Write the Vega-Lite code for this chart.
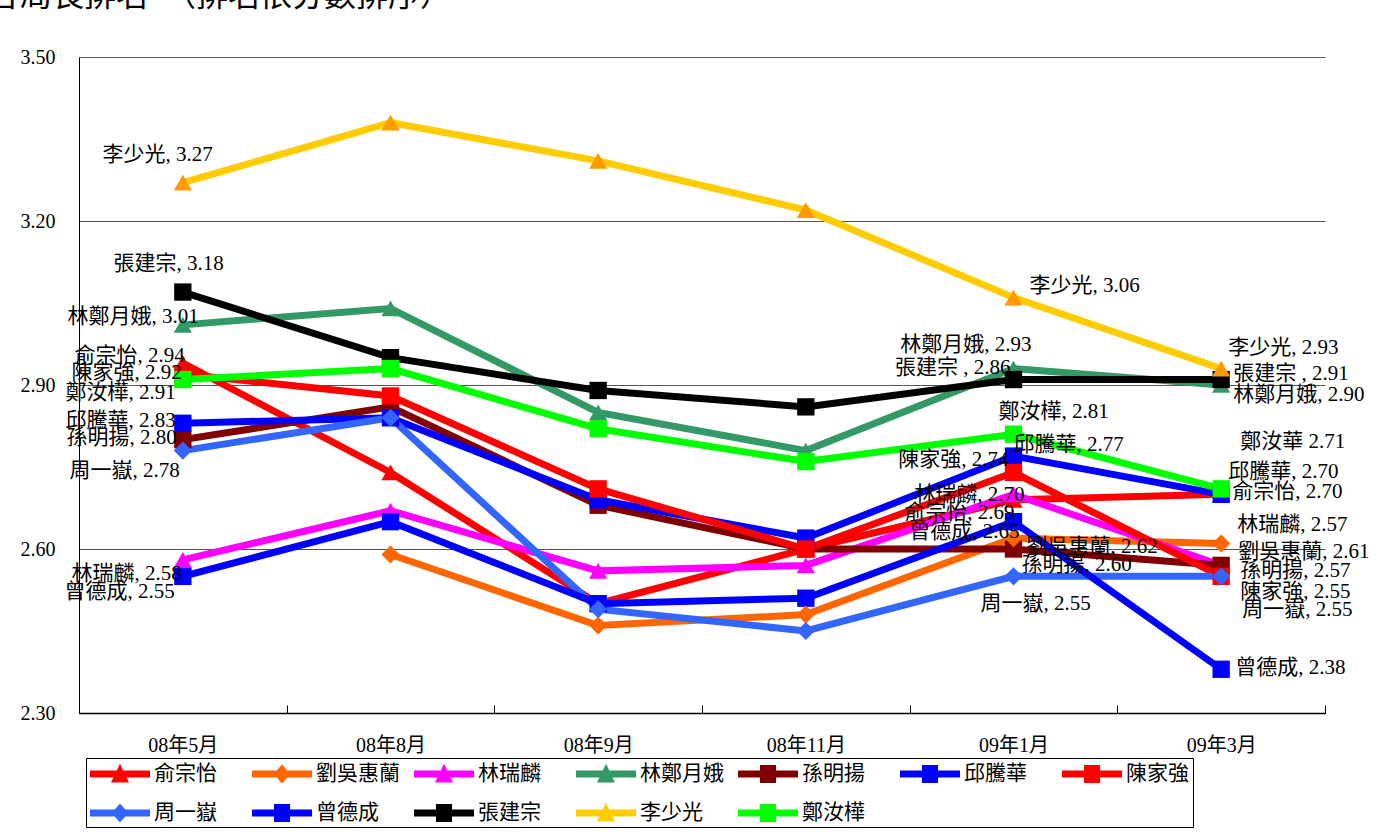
{
 "$schema": "https://vega.github.io/schema/vega-lite/v6.json",
 "width": 1246, "height": 656,
 "autosize": {"type": "none"},
 "padding": {"left": 79, "top": 57, "right": 64, "bottom": 119},
 "background": "white",
 "title": {"text": "各局長排名　（排名依分數排序）", "anchor": "start", "frame": "group", "fontSize": 32, "font": "Noto Sans CJK TC", "fontWeight": "normal", "color": "black", "dx": -91, "offset": 34},
 "data": {"values": [
  {"series": "俞宗怡", "date": "08年5月", "value": 2.94, "label": "俞宗怡, 2.94"},
  {"series": "俞宗怡", "date": "08年8月", "value": 2.74},
  {"series": "俞宗怡", "date": "08年9月", "value": 2.50},
  {"series": "俞宗怡", "date": "08年11月", "value": 2.60},
  {"series": "俞宗怡", "date": "09年1月", "value": 2.69, "label": "俞宗怡, 2.69"},
  {"series": "俞宗怡", "date": "09年3月", "value": 2.70, "label": "俞宗怡, 2.70"},
  {"series": "劉吳惠蘭", "date": "08年8月", "value": 2.59},
  {"series": "劉吳惠蘭", "date": "08年9月", "value": 2.46},
  {"series": "劉吳惠蘭", "date": "08年11月", "value": 2.48},
  {"series": "劉吳惠蘭", "date": "09年1月", "value": 2.62, "label": "劉吳惠蘭, 2.62"},
  {"series": "劉吳惠蘭", "date": "09年3月", "value": 2.61, "label": "劉吳惠蘭, 2.61"},
  {"series": "林瑞麟", "date": "08年5月", "value": 2.58, "label": "林瑞麟, 2.58"},
  {"series": "林瑞麟", "date": "08年8月", "value": 2.67},
  {"series": "林瑞麟", "date": "08年9月", "value": 2.56},
  {"series": "林瑞麟", "date": "08年11月", "value": 2.57},
  {"series": "林瑞麟", "date": "09年1月", "value": 2.70, "label": "林瑞麟, 2.70"},
  {"series": "林瑞麟", "date": "09年3月", "value": 2.57, "label": "林瑞麟, 2.57"},
  {"series": "林鄭月娥", "date": "08年5月", "value": 3.01, "label": "林鄭月娥, 3.01"},
  {"series": "林鄭月娥", "date": "08年8月", "value": 3.04},
  {"series": "林鄭月娥", "date": "08年9月", "value": 2.85},
  {"series": "林鄭月娥", "date": "08年11月", "value": 2.78},
  {"series": "林鄭月娥", "date": "09年1月", "value": 2.93, "label": "林鄭月娥, 2.93"},
  {"series": "林鄭月娥", "date": "09年3月", "value": 2.90, "label": "林鄭月娥, 2.90"},
  {"series": "孫明揚", "date": "08年5月", "value": 2.80, "label": "孫明揚, 2.80"},
  {"series": "孫明揚", "date": "08年8月", "value": 2.86},
  {"series": "孫明揚", "date": "08年9月", "value": 2.68},
  {"series": "孫明揚", "date": "08年11月", "value": 2.60},
  {"series": "孫明揚", "date": "09年1月", "value": 2.60, "label": "孫明揚, 2.60"},
  {"series": "孫明揚", "date": "09年3月", "value": 2.57, "label": "孫明揚, 2.57"},
  {"series": "邱騰華", "date": "08年5月", "value": 2.83, "label": "邱騰華, 2.83"},
  {"series": "邱騰華", "date": "08年8月", "value": 2.84},
  {"series": "邱騰華", "date": "08年9月", "value": 2.69},
  {"series": "邱騰華", "date": "08年11月", "value": 2.62},
  {"series": "邱騰華", "date": "09年1月", "value": 2.77, "label": "邱騰華, 2.77"},
  {"series": "邱騰華", "date": "09年3月", "value": 2.70, "label": "邱騰華, 2.70"},
  {"series": "陳家強", "date": "08年5月", "value": 2.92, "label": "陳家強, 2.92"},
  {"series": "陳家強", "date": "08年8月", "value": 2.88},
  {"series": "陳家強", "date": "08年9月", "value": 2.71},
  {"series": "陳家強", "date": "08年11月", "value": 2.60},
  {"series": "陳家強", "date": "09年1月", "value": 2.74, "label": "陳家強, 2.74"},
  {"series": "陳家強", "date": "09年3月", "value": 2.55, "label": "陳家強, 2.55"},
  {"series": "周一嶽", "date": "08年5月", "value": 2.78, "label": "周一嶽, 2.78"},
  {"series": "周一嶽", "date": "08年8月", "value": 2.84},
  {"series": "周一嶽", "date": "08年9月", "value": 2.49},
  {"series": "周一嶽", "date": "08年11月", "value": 2.45},
  {"series": "周一嶽", "date": "09年1月", "value": 2.55, "label": "周一嶽, 2.55"},
  {"series": "周一嶽", "date": "09年3月", "value": 2.55, "label": "周一嶽, 2.55"},
  {"series": "曾德成", "date": "08年5月", "value": 2.55, "label": "曾德成, 2.55"},
  {"series": "曾德成", "date": "08年8月", "value": 2.65},
  {"series": "曾德成", "date": "08年9月", "value": 2.50},
  {"series": "曾德成", "date": "08年11月", "value": 2.51},
  {"series": "曾德成", "date": "09年1月", "value": 2.65, "label": "曾德成, 2.65"},
  {"series": "曾德成", "date": "09年3月", "value": 2.38, "label": "曾德成, 2.38"},
  {"series": "張建宗", "date": "08年5月", "value": 3.07, "label": "張建宗, 3.18"},
  {"series": "張建宗", "date": "08年8月", "value": 2.95},
  {"series": "張建宗", "date": "08年9月", "value": 2.89},
  {"series": "張建宗", "date": "08年11月", "value": 2.86},
  {"series": "張建宗", "date": "09年1月", "value": 2.91, "label": "張建宗 , 2.86"},
  {"series": "張建宗", "date": "09年3月", "value": 2.91, "label": "張建宗  , 2.91"},
  {"series": "李少光", "date": "08年5月", "value": 3.27, "label": "李少光, 3.27"},
  {"series": "李少光", "date": "08年8月", "value": 3.38},
  {"series": "李少光", "date": "08年9月", "value": 3.31},
  {"series": "李少光", "date": "08年11月", "value": 3.22},
  {"series": "李少光", "date": "09年1月", "value": 3.06, "label": "李少光, 3.06"},
  {"series": "李少光", "date": "09年3月", "value": 2.93, "label": "李少光, 2.93"},
  {"series": "鄭汝樺", "date": "08年5月", "value": 2.91, "label": "鄭汝樺, 2.91"},
  {"series": "鄭汝樺", "date": "08年8月", "value": 2.93},
  {"series": "鄭汝樺", "date": "08年9月", "value": 2.82},
  {"series": "鄭汝樺", "date": "08年11月", "value": 2.76},
  {"series": "鄭汝樺", "date": "09年1月", "value": 2.81, "label": "鄭汝樺, 2.81"},
  {"series": "鄭汝樺", "date": "09年3月", "value": 2.71, "label": "鄭汝華 2.71"}
 ]},
 "encoding": {
  "x": {"field": "date", "type": "ordinal", "sort": ["08年5月", "08年8月", "08年9月", "08年11月", "09年1月", "09年3月"], "bandPosition": 0.5,
   "scale": {"type": "band", "paddingInner": 0, "paddingOuter": 0},
   "axis": {"title": null, "tickBand": "extent", "ticks": true, "tickSize": -8, "tickColor": "black", "tickWidth": 1, "domainColor": "black", "domainWidth": 1.5, "labelAngle": 0, "labelPadding": 30, "labelFontSize": 20, "labelFont": "Liberation Serif, Noto Sans CJK TC", "labelColor": "black", "grid": false}},
  "y": {"field": "value", "type": "quantitative", "scale": {"domain": [2.3, 3.5], "zero": false, "nice": false},
   "axis": {"title": null, "values": [2.3, 2.6, 2.9, 3.2, 3.5], "format": ".2f", "ticks": false, "grid": true, "gridColor": "#555555", "gridWidth": 1, "domainColor": "black", "domainWidth": 1, "labelPadding": 24, "labelFontSize": 20, "labelFont": "Liberation Serif, Noto Sans CJK TC", "labelColor": "black"}},
  "color": {"field": "series", "type": "nominal",
    "scale": {"domain": ["俞宗怡", "劉吳惠蘭", "林瑞麟", "林鄭月娥", "孫明揚", "邱騰華", "陳家強", "周一嶽", "曾德成", "張建宗", "李少光", "鄭汝樺"],
              "range": ["#FF0000", "#FF6600", "#FF00FF", "#339966", "#800000", "#0000FF", "#FF0000", "#3366FF", "#0000FF", "#000000", "#FFCC00", "#00FF00"]},
    "legend": {"title": null, "orient": "none", "legendX": 7, "legendY": 701, "direction": "horizontal", "columns": 7, "gridAlign": "all", "columnPadding": 14, "rowPadding": 17, "padding": 4, "strokeColor": "black", "fillColor": "white", "symbolSize": 576, "symbolStrokeWidth": 0, "symbolType": "M-1,-0.29L4,-0.29L4,0.29L-1,0.29Z", "labelFontSize": 21, "labelFont": "Liberation Serif, Noto Sans CJK TC", "labelColor": "black", "labelOffset": 40, "labelLimit": 300,
     "encode": {"symbols": {"update": {
      "shape": {"signal": "(datum.value === '劉吳惠蘭' || datum.value === '周一嶽') ? 'M-1,-0.29L4,-0.29L4,0.29L-1,0.29Z M1.5,-0.8L2.2,0L1.5,0.8L0.8,0Z' : ((datum.value === '俞宗怡' || datum.value === '林瑞麟' || datum.value === '林鄭月娥' || datum.value === '李少光') ? 'M-1,-0.29L4,-0.29L4,0.29L-1,0.29Z M1.5,-0.85L2.25,0.7L0.75,0.7Z' : 'M-1,-0.29L4,-0.29L4,0.29L-1,0.29Z M0.83,-0.75L2.17,-0.75L2.17,0.75L0.83,0.75Z')"},
      "fill": {"scale": "color", "field": "value"},
      "strokeWidth": {"value": 0},
      "opacity": {"value": 1}}}}}}
 },
 "layer": [
  {"mark": {"type": "line", "strokeWidth": 7}},
  {"mark": {"type": "point", "filled": true, "size": 330, "opacity": 1, "shape": "triangle-up"},
   "transform": [{"filter": "indexof(['俞宗怡', '林瑞麟', '林鄭月娥'], datum.series) >= 0"}]},
  {"mark": {"type": "point", "filled": true, "size": 300, "opacity": 1, "shape": "square"},
   "transform": [{"filter": "indexof(['孫明揚', '邱騰華', '陳家強', '曾德成', '張建宗', '鄭汝樺'], datum.series) >= 0"}]},
  {"mark": {"type": "point", "filled": true, "size": 330, "opacity": 1, "shape": "diamond"},
   "transform": [{"filter": "indexof(['劉吳惠蘭', '周一嶽'], datum.series) >= 0"}]},
  {"mark": {"type": "point", "filled": true, "size": 330, "opacity": 1, "shape": "triangle-up", "color": "#FF9900"},
   "transform": [{"filter": "datum.series === '李少光'"}], "encoding": {"color": {"value": "#FF9900"}}},
  {"mark": {"type": "text", "align": "right", "dx": 30, "dy": -28}, "transform": [{"filter": "datum.series === '李少光' && datum.date === '08年5月'"}], "encoding": {"text": {"field": "label"}, "color": {"value": "black"}}},
  {"mark": {"type": "text", "align": "right", "dx": 41, "dy": -28}, "transform": [{"filter": "datum.series === '張建宗' && datum.date === '08年5月'"}], "encoding": {"text": {"field": "label"}, "color": {"value": "black"}}},
  {"mark": {"type": "text", "align": "right", "dx": 16, "dy": -8}, "transform": [{"filter": "datum.series === '林鄭月娥' && datum.date === '08年5月'"}], "encoding": {"text": {"field": "label"}, "color": {"value": "black"}}},
  {"mark": {"type": "text", "align": "right", "dx": 2, "dy": -7}, "transform": [{"filter": "datum.series === '俞宗怡' && datum.date === '08年5月'"}], "encoding": {"text": {"field": "label"}, "color": {"value": "black"}}},
  {"mark": {"type": "text", "align": "right", "dx": -1, "dy": -1}, "transform": [{"filter": "datum.series === '陳家強' && datum.date === '08年5月'"}], "encoding": {"text": {"field": "label"}, "color": {"value": "black"}}},
  {"mark": {"type": "text", "align": "right", "dx": -7, "dy": 13}, "transform": [{"filter": "datum.series === '鄭汝樺' && datum.date === '08年5月'"}], "encoding": {"text": {"field": "label"}, "color": {"value": "black"}}},
  {"mark": {"type": "text", "align": "right", "dx": -7, "dy": -2}, "transform": [{"filter": "datum.series === '邱騰華' && datum.date === '08年5月'"}], "encoding": {"text": {"field": "label"}, "color": {"value": "black"}}},
  {"mark": {"type": "text", "align": "right", "dx": -6, "dy": -2}, "transform": [{"filter": "datum.series === '孫明揚' && datum.date === '08年5月'"}], "encoding": {"text": {"field": "label"}, "color": {"value": "black"}}},
  {"mark": {"type": "text", "align": "right", "dx": -3, "dy": 20}, "transform": [{"filter": "datum.series === '周一嶽' && datum.date === '08年5月'"}], "encoding": {"text": {"field": "label"}, "color": {"value": "black"}}},
  {"mark": {"type": "text", "align": "right", "dx": -1, "dy": 14}, "transform": [{"filter": "datum.series === '林瑞麟' && datum.date === '08年5月'"}], "encoding": {"text": {"field": "label"}, "color": {"value": "black"}}},
  {"mark": {"type": "text", "align": "right", "dx": -8, "dy": 16}, "transform": [{"filter": "datum.series === '曾德成' && datum.date === '08年5月'"}], "encoding": {"text": {"field": "label"}, "color": {"value": "black"}}},
  {"mark": {"type": "text", "align": "left", "dx": 16, "dy": -12}, "transform": [{"filter": "datum.series === '李少光' && datum.date === '09年1月'"}], "encoding": {"text": {"field": "label"}, "color": {"value": "black"}}},
  {"mark": {"type": "text", "align": "right", "dx": 18, "dy": -24}, "transform": [{"filter": "datum.series === '林鄭月娥' && datum.date === '09年1月'"}], "encoding": {"text": {"field": "label"}, "color": {"value": "black"}}},
  {"mark": {"type": "text", "align": "right", "dx": -3, "dy": -12}, "transform": [{"filter": "datum.series === '張建宗' && datum.date === '09年1月'"}], "encoding": {"text": {"field": "label"}, "color": {"value": "black"}}},
  {"mark": {"type": "text", "align": "left", "dx": -15, "dy": -22}, "transform": [{"filter": "datum.series === '鄭汝樺' && datum.date === '09年1月'"}], "encoding": {"text": {"field": "label"}, "color": {"value": "black"}}},
  {"mark": {"type": "text", "align": "left", "dx": 0, "dy": -11}, "transform": [{"filter": "datum.series === '邱騰華' && datum.date === '09年1月'"}], "encoding": {"text": {"field": "label"}, "color": {"value": "black"}}},
  {"mark": {"type": "text", "align": "right", "dx": -5, "dy": -12}, "transform": [{"filter": "datum.series === '陳家強' && datum.date === '09年1月'"}], "encoding": {"text": {"field": "label"}, "color": {"value": "black"}}},
  {"mark": {"type": "text", "align": "right", "dx": 11, "dy": 1}, "transform": [{"filter": "datum.series === '林瑞麟' && datum.date === '09年1月'"}], "encoding": {"text": {"field": "label"}, "color": {"value": "black"}}},
  {"mark": {"type": "text", "align": "right", "dx": 1, "dy": 13}, "transform": [{"filter": "datum.series === '俞宗怡' && datum.date === '09年1月'"}], "encoding": {"text": {"field": "label"}, "color": {"value": "black"}}},
  {"mark": {"type": "text", "align": "right", "dx": 6, "dy": 10}, "transform": [{"filter": "datum.series === '曾德成' && datum.date === '09年1月'"}], "encoding": {"text": {"field": "label"}, "color": {"value": "black"}}},
  {"mark": {"type": "text", "align": "left", "dx": 13, "dy": 9}, "transform": [{"filter": "datum.series === '劉吳惠蘭' && datum.date === '09年1月'"}], "encoding": {"text": {"field": "label"}, "color": {"value": "black"}}},
  {"mark": {"type": "text", "align": "left", "dx": 8, "dy": 16}, "transform": [{"filter": "datum.series === '孫明揚' && datum.date === '09年1月'"}], "encoding": {"text": {"field": "label"}, "color": {"value": "black"}}},
  {"mark": {"type": "text", "align": "left", "dx": -33, "dy": 28}, "transform": [{"filter": "datum.series === '周一嶽' && datum.date === '09年1月'"}], "encoding": {"text": {"field": "label"}, "color": {"value": "black"}}},
  {"mark": {"type": "text", "align": "left", "dx": 7, "dy": -21}, "transform": [{"filter": "datum.series === '李少光' && datum.date === '09年3月'"}], "encoding": {"text": {"field": "label"}, "color": {"value": "black"}}},
  {"mark": {"type": "text", "align": "left", "dx": 12, "dy": -6}, "transform": [{"filter": "datum.series === '張建宗' && datum.date === '09年3月'"}], "encoding": {"text": {"field": "label"}, "color": {"value": "black"}}},
  {"mark": {"type": "text", "align": "left", "dx": 12, "dy": 10}, "transform": [{"filter": "datum.series === '林鄭月娥' && datum.date === '09年3月'"}], "encoding": {"text": {"field": "label"}, "color": {"value": "black"}}},
  {"mark": {"type": "text", "align": "left", "dx": 19, "dy": -47}, "transform": [{"filter": "datum.series === '鄭汝樺' && datum.date === '09年3月'"}], "encoding": {"text": {"field": "label"}, "color": {"value": "black"}}},
  {"mark": {"type": "text", "align": "left", "dx": 7, "dy": -22}, "transform": [{"filter": "datum.series === '邱騰華' && datum.date === '09年3月'"}], "encoding": {"text": {"field": "label"}, "color": {"value": "black"}}},
  {"mark": {"type": "text", "align": "left", "dx": 11, "dy": -2}, "transform": [{"filter": "datum.series === '俞宗怡' && datum.date === '09年3月'"}], "encoding": {"text": {"field": "label"}, "color": {"value": "black"}}},
  {"mark": {"type": "text", "align": "left", "dx": 16, "dy": -40}, "transform": [{"filter": "datum.series === '林瑞麟' && datum.date === '09年3月'"}], "encoding": {"text": {"field": "label"}, "color": {"value": "black"}}},
  {"mark": {"type": "text", "align": "left", "dx": 17, "dy": 8}, "transform": [{"filter": "datum.series === '劉吳惠蘭' && datum.date === '09年3月'"}], "encoding": {"text": {"field": "label"}, "color": {"value": "black"}}},
  {"mark": {"type": "text", "align": "left", "dx": 19, "dy": 6}, "transform": [{"filter": "datum.series === '孫明揚' && datum.date === '09年3月'"}], "encoding": {"text": {"field": "label"}, "color": {"value": "black"}}},
  {"mark": {"type": "text", "align": "left", "dx": 19, "dy": 16}, "transform": [{"filter": "datum.series === '陳家強' && datum.date === '09年3月'"}], "encoding": {"text": {"field": "label"}, "color": {"value": "black"}}},
  {"mark": {"type": "text", "align": "left", "dx": 21, "dy": 34}, "transform": [{"filter": "datum.series === '周一嶽' && datum.date === '09年3月'"}], "encoding": {"text": {"field": "label"}, "color": {"value": "black"}}},
  {"mark": {"type": "text", "align": "left", "dx": 14, "dy": -1}, "transform": [{"filter": "datum.series === '曾德成' && datum.date === '09年3月'"}], "encoding": {"text": {"field": "label"}, "color": {"value": "black"}}}
 ],
 "config": {
  "view": {"stroke": null},
  "font": "Liberation Serif, Noto Sans CJK TC",
  "text": {"font": "Liberation Serif, Noto Sans CJK TC", "fontSize": 21, "baseline": "middle", "color": "black"}
 }
}
